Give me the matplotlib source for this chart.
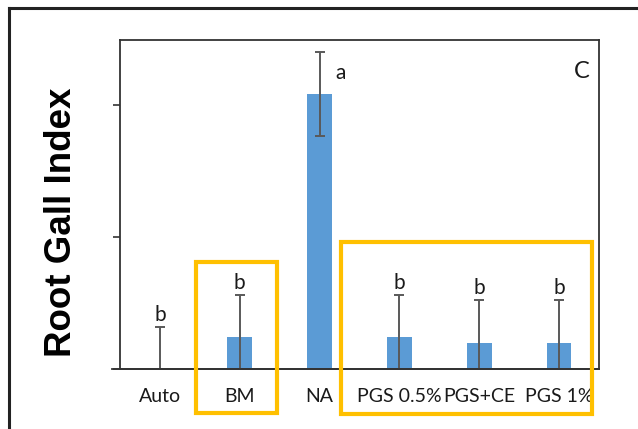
import numpy as np
import matplotlib
matplotlib.use("Agg")
import matplotlib.pyplot as plt
import matplotlib.transforms as mtransforms
from matplotlib.patches import Rectangle
from matplotlib.lines import Line2D

# data
treatments = ["Auto", "BM", "NA", "PGS 0.5%", "PGS+CE", "PGS 1%"]
gall_index = [0.0, 0.48, 4.16, 0.48, 0.39, 0.39]
gall_err = [0.63, 0.64, 0.64, 0.64, 0.65, 0.65]
letters = ["b", "b", "a", "b", "b", "b"]
y_ticks = [0, 2, 4]

plt.rcParams["font.family"] = ["Lato", "DejaVu Sans"]

fig = plt.figure(figsize=(6.38, 4.29), dpi=100)
ax = fig.add_axes([120 / 638, 1 - 369 / 429, 479 / 638, 329 / 429])

x = np.arange(len(treatments))
ax.bar(x, gall_index, width=0.31, color="#5B9BD5", zorder=2)
ax.errorbar(x, gall_index, yerr=gall_err, fmt="none", ecolor="#595959",
            elinewidth=1.4, capsize=3.3, capthick=1.4, zorder=3)

ax.set_xlim(-0.5, len(treatments) - 0.5)
ax.set_ylim(0, 4.98)
ax.set_yticks(y_ticks)
ax.set_yticklabels([""] * len(y_ticks))
ax.tick_params(axis="y", length=5, width=1.2, color="#333333", direction="out")
ax.tick_params(axis="x", length=0, pad=14, labelsize=14)
ax.set_xticks(x)
ax.set_xticklabels(treatments, color="#1a1a1a")

for s in ax.spines.values():
    s.set_color("#333333")
    s.set_linewidth(1.3)
# the x axis line runs a little past the y axis, like Excel draws it
ax.plot([-0.016, 1], [0, 0], transform=ax.transAxes, color="#333333",
        lw=1.3, clip_on=False, zorder=4)

# significance letters
for i, (v, e, l) in enumerate(zip(gall_index, gall_err, letters)):
    if l == "a":
        ax.annotate(l, (i, v + e), xytext=(15, -15), textcoords="offset points",
                    ha="center", va="center", fontsize=15, color="#1a1a1a")
    else:
        ax.annotate(l, (i, v + e), xytext=(0, 1.5), textcoords="offset points",
                    ha="center", va="bottom", fontsize=15, color="#1a1a1a")

ax.text(0.965, 0.903, "C", transform=ax.transAxes, ha="center", va="center",
        fontsize=17, color="#1a1a1a")

fig.text(62 / 638, 1 - 222 / 429, "Root Gall Index", rotation=90,
         ha="center", va="center", fontsize=26.5, fontweight="bold",
         family="Liberation Sans", color="black")

# highlight boxes
trans = mtransforms.blended_transform_factory(ax.transData, ax.transAxes)
ax.add_patch(Rectangle((0.45, -0.134), 1.02, 0.459, transform=trans, fill=False,
                       edgecolor="#FFC000", lw=3, clip_on=False, zorder=5))
ax.add_patch(Rectangle((2.27, -0.137), 3.14, 0.523, transform=trans, fill=False,
                       edgecolor="#FFC000", lw=3, clip_on=False, zorder=5))

# outer frame, partly cut off at right and bottom
fig.add_artist(Line2D([9 / 638, 9 / 638], [0, 1 - 8 / 429], transform=fig.transFigure,
                      color="#222222", lw=2.2))
fig.add_artist(Line2D([9 / 638, 1], [1 - 8 / 429, 1 - 8 / 429], transform=fig.transFigure,
                      color="#222222", lw=2.2))

fig.savefig("out.png", dpi=100)
